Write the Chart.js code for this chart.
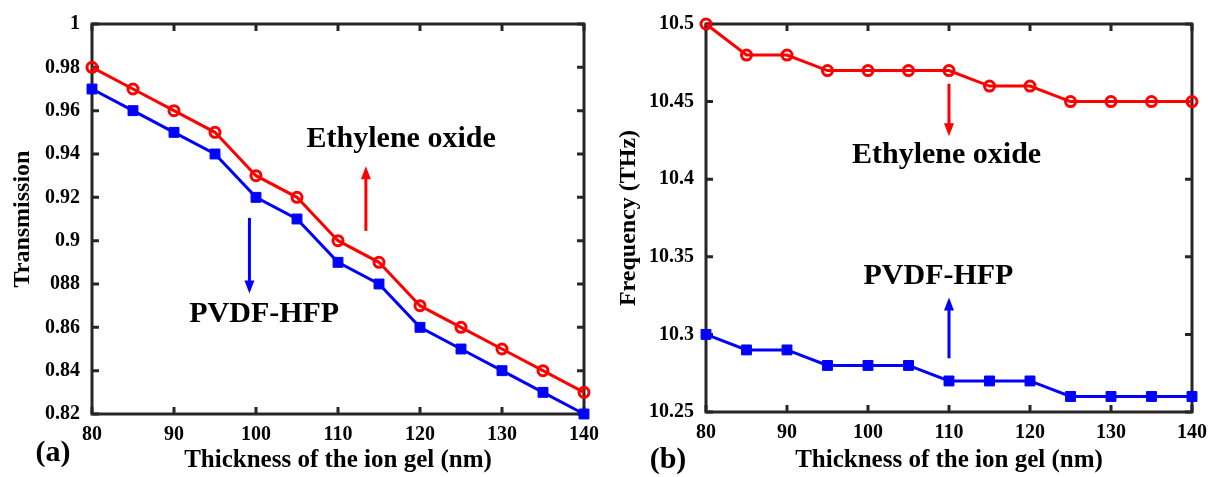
<!DOCTYPE html>
<html>
<head>
<meta charset="utf-8">
<script src="https://cdn.jsdelivr.net/npm/chart.js@4/dist/chart.umd.min.js"></script>
<style>
  html, body { margin: 0; padding: 0; background: #fff; }
  .panel { position: absolute; top: 0; width: 608px; height: 477px; }
  #pa { left: 0; }
  #pb { left: 608px; }
</style>
</head>
<body>
<div class="panel" id="pa"><canvas id="chartA" width="608" height="477"></canvas></div>
<div class="panel" id="pb"><canvas id="chartB" width="608" height="477"></canvas></div>
<script>
// Thickness of the ion gel (nm)
const thickness = [80, 85, 90, 95, 100, 105, 110, 115, 120, 125, 130, 135, 140];

// (a) Transmission
const transEthylene = [0.98, 0.97, 0.96, 0.95, 0.93, 0.92, 0.90, 0.89, 0.87, 0.86, 0.85, 0.84, 0.83];
const transPvdf = [0.97, 0.96, 0.95, 0.94, 0.92, 0.91, 0.89, 0.88, 0.86, 0.85, 0.84, 0.83, 0.82];

// (b) Frequency (THz)
const freqEthylene = [10.50, 10.48, 10.48, 10.47, 10.47, 10.47, 10.47, 10.46, 10.46, 10.45, 10.45, 10.45, 10.45];
const freqPvdf = [10.30, 10.29, 10.29, 10.28, 10.28, 10.28, 10.27, 10.27, 10.27, 10.26, 10.26, 10.26, 10.26];

const xTicks = [80, 90, 100, 110, 120, 130, 140];
const transTicks = [0.82, 0.84, 0.86, 0.88, 0.90, 0.92, 0.94, 0.96, 0.98, 1];
const transTickLabels = ['0.82', '0.84', '0.86', '088', '0.9', '0.92', '0.94', '0.96', '0.98', '1'];
const freqTicks = [10.25, 10.30, 10.35, 10.40, 10.45, 10.50];
const freqTickLabels = ['10.25', '10.3', '10.35', '10.4', '10.45', '10.5'];

const RED = '#ff0000';
const BLUE = '#0000ff';
const AXIS = '#262626';
const FONT = '"Liberation Serif", "Times New Roman", serif';

const toPoints = (ys) => ys.map((y, i) => ({ x: thickness[i], y: y }));

// box frame, inward ticks, arrows and text notes
const framePlugin = {
  id: 'frame',
  beforeDatasetsDraw(chart) {
    const { ctx, chartArea: a, scales } = chart;
    ctx.save();
    ctx.strokeStyle = AXIS;
    ctx.lineWidth = 3;
    ctx.beginPath();
    scales.x.ticks.forEach(t => {
      const px = scales.x.getPixelForValue(t.value);
      ctx.moveTo(px, a.bottom); ctx.lineTo(px, a.bottom - 7);
      ctx.moveTo(px, a.top); ctx.lineTo(px, a.top + 7);
    });
    scales.y.ticks.forEach(t => {
      const py = scales.y.getPixelForValue(t.value);
      ctx.moveTo(a.left, py); ctx.lineTo(a.left + 7, py);
      ctx.moveTo(a.right, py); ctx.lineTo(a.right - 7, py);
    });
    ctx.stroke();
    ctx.strokeRect(a.left, a.top, a.right - a.left, a.bottom - a.top);
    ctx.restore();
  },
  afterDraw(chart, args, opts) {
    const { ctx, scales } = chart;
    ctx.save();
    (opts.arrows || []).forEach(ar => {
      const px = scales.x.getPixelForValue(ar.x);
      const y0 = scales.y.getPixelForValue(ar.from);
      const y1 = scales.y.getPixelForValue(ar.to);
      const dir = y1 > y0 ? 1 : -1;
      ctx.strokeStyle = ar.color;
      ctx.fillStyle = ar.color;
      ctx.lineWidth = 3;
      ctx.beginPath();
      ctx.moveTo(px, y0);
      ctx.lineTo(px, y1 - dir * 10);
      ctx.stroke();
      ctx.beginPath();
      ctx.moveTo(px, y1);
      ctx.lineTo(px - 5, y1 - dir * 13);
      ctx.lineTo(px + 5, y1 - dir * 13);
      ctx.closePath();
      ctx.fill();
    });
    ctx.fillStyle = '#000';
    ctx.textAlign = 'center';
    ctx.textBaseline = 'middle';
    ctx.font = 'bold 30px ' + FONT;
    (opts.notes || []).forEach(n => {
      ctx.fillText(n.text, scales.x.getPixelForValue(n.x), scales.y.getPixelForValue(n.y));
    });
    if (opts.tag) {
      ctx.font = 'bold 30px ' + FONT;
      ctx.fillText(opts.tag.text, opts.tag.x, opts.tag.y);
    }
    ctx.restore();
  }
};

function makeChart(id, cfg) {
  return new Chart(document.getElementById(id), {
    type: 'line',
    data: {
      datasets: [
        {
          label: 'Ethylene oxide',
          data: toPoints(cfg.red),
          borderColor: RED,
          backgroundColor: 'transparent',
          borderWidth: 3,
          pointStyle: 'circle',
          pointRadius: 5,
          pointBorderWidth: 3,
          pointBorderColor: RED,
          pointBackgroundColor: 'transparent',
          clip: false,
        },
        {
          label: 'PVDF-HFP',
          data: toPoints(cfg.blue),
          borderColor: BLUE,
          backgroundColor: BLUE,
          borderWidth: 3,
          pointStyle: 'rect',
          pointRadius: 7,
          pointBorderWidth: 1,
          pointBorderColor: BLUE,
          pointBackgroundColor: BLUE,
          clip: false,
        },
      ],
    },
    options: {
      responsive: false,
      animation: false,
      layout: { padding: cfg.padding },
      plugins: {
        legend: { display: false },
        tooltip: { enabled: false },
        frame: { arrows: cfg.arrows, notes: cfg.notes, tag: cfg.tag },
      },
      scales: {
        x: {
          type: 'linear',
          min: 80,
          max: 140,
          afterBuildTicks: s => { s.ticks = xTicks.map(v => ({ value: v })); },
          afterFit: s => { s.height = cfg.xHeight; },
          grid: { display: false, drawTicks: false },
          border: { display: false },
          ticks: { color: '#000', padding: 9, font: { family: FONT, size: 20, weight: 'bold' } },
          title: {
            display: true,
            text: 'Thickness of the ion gel (nm)',
            color: '#000',
            padding: { top: 0, bottom: 1 },
            font: { family: FONT, size: 25, weight: 'bold' },
          },
        },
        y: {
          type: 'linear',
          min: cfg.yTicks[0],
          max: cfg.yTicks[cfg.yTicks.length - 1],
          afterBuildTicks: s => { s.ticks = cfg.yTicks.map(v => ({ value: v })); },
          afterFit: s => { s.width = cfg.yWidth; },
          grid: { display: false, drawTicks: false },
          border: { display: false },
          ticks: {
            color: '#000',
            padding: 12,
            font: { family: FONT, size: 20, weight: 'bold' },
            callback: (v, i) => cfg.yLabels[i],
          },
          title: {
            display: true,
            text: cfg.yTitle,
            color: '#000',
            padding: { top: cfg.yTitlePad, bottom: 0 },
            font: { family: FONT, size: 24, weight: 'bold' },
          },
        },
      },
    },
    plugins: [framePlugin],
  });
}

makeChart('chartA', {
  red: transEthylene,
  blue: transPvdf,
  yTicks: transTicks,
  yLabels: transTickLabels,
  yTitle: 'Transmission',
  yTitlePad: 8,
  yWidth: 92,
  xHeight: 63,
  padding: { top: 22, right: 18, left: 0, bottom: 0 },
  arrows: [
    { x: 113.4, from: 0.9045, to: 0.9343, color: RED },
    { x: 99.2, from: 0.9105, to: 0.8756, color: BLUE },
  ],
  notes: [
    { text: 'Ethylene oxide', x: 117.7, y: 0.9467 },
    { text: 'PVDF-HFP', x: 101.0, y: 0.866 },
  ],
  tag: { text: '(a)', x: 53, y: 453 },
});

makeChart('chartB', {
  red: freqEthylene,
  blue: freqPvdf,
  yTicks: freqTicks,
  yLabels: freqTickLabels,
  yTitle: 'Frequency (THz)',
  yTitlePad: 6,
  yWidth: 98,
  xHeight: 65,
  padding: { top: 22, right: 13, left: 0, bottom: 0 },
  arrows: [
    { x: 110, from: 10.4615, to: 10.4276, color: RED },
    { x: 110, from: 10.2846, to: 10.3237, color: BLUE },
  ],
  notes: [
    { text: 'Ethylene oxide', x: 109.7, y: 10.4154 },
    { text: 'PVDF-HFP', x: 108.7, y: 10.3372 },
  ],
  tag: { text: '(b)', x: 60, y: 460 },
});
</script>
</body>
</html>
